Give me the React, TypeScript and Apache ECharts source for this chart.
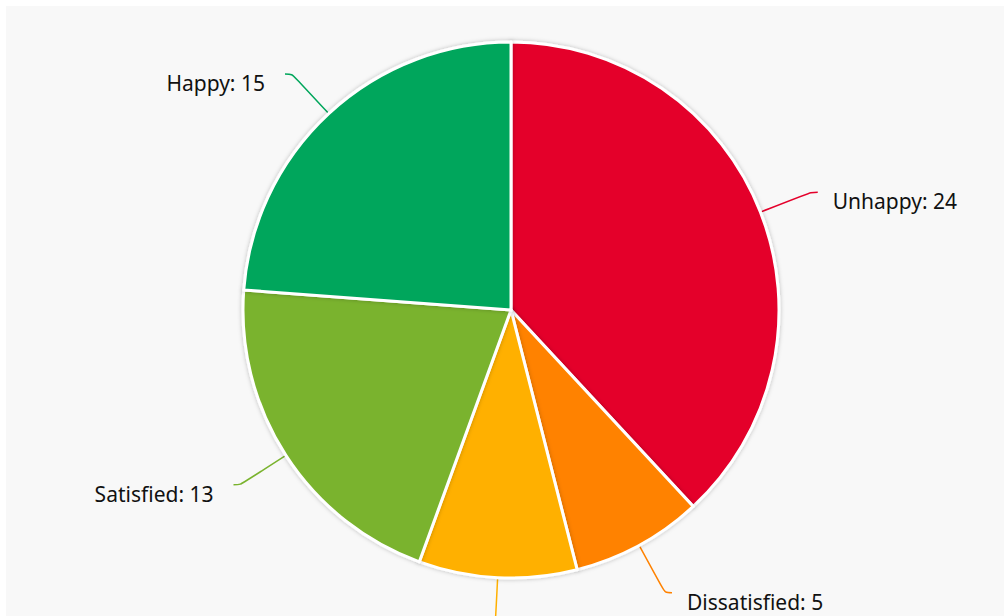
import React, { useEffect, useRef } from "react";
import * as echarts from "echarts";

const categories = ["Unhappy", "Dissatisfied", "Neutral", "Satisfied", "Happy"];
const values = [24, 5, 6, 13, 15];
const colors = ["#e4002b", "#ff8200", "#ffb000", "#7ab32e", "#00a65b"];

export default function App() {
  const ref = useRef<HTMLDivElement>(null);
  useEffect(() => {
    const chart = echarts.init(ref.current!, null, { renderer: "svg" });
    chart.setOption({
      animation: false,
      backgroundColor: "#f8f8f8",
      series: [
        {
          type: "pie",
          center: [505, 304],
          radius: 268,
          startAngle: 90,
          clockwise: true,
          avoidLabelOverlap: false,
          data: categories.map((c, i) => ({
            name: c,
            value: values[i],
            itemStyle: { color: colors[i] },
            label: { offset: i === 2 ? [0, 20] : i >= 3 ? [-4, 9] : [-1, 9] },
          })),
          itemStyle: {
            borderColor: "#ffffff",
            borderWidth: 3,
            shadowBlur: 4,
            shadowColor: "rgba(0,0,0,0.25)",
          },
          label: {
            formatter: "{b}: {c}",
            fontFamily: "Noto Sans",
            fontSize: 21,
            color: "#111111",
            distanceToLabelLine: 16,
          },
          labelLine: {
            show: true,
            length: 54,
            length2: 7,
            smooth: true,
            lineStyle: { width: 1.5 },
          },
        },
      ],
    });
    return () => chart.dispose();
  }, []);
  return (
    <div
      ref={ref}
      style={{ position: "fixed", left: 6, top: 6, width: 998, height: 610 }}
    />
  );
}
